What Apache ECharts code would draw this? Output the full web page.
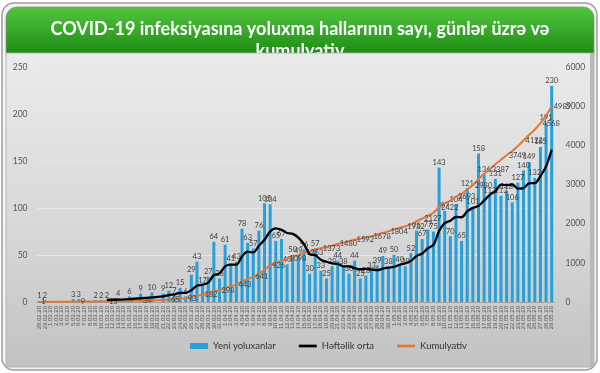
<!DOCTYPE html>
<html>
<head>
<meta charset="utf-8">
<script src="https://cdn.jsdelivr.net/npm/echarts@6/dist/echarts.min.js"></script>
<style>
html,body{margin:0;padding:0;background:#ffffff;}
#chart{width:600px;height:373px;}
</style>
</head>
<body>
<div id="chart"></div>
<script>
// ---- DATA ----
const categories = [
"28.02.20","29.02.20","1.03.20","2.03.20","3.03.20","4.03.20","5.03.20","6.03.20","7.03.20","8.03.20",
"9.03.20","10.03.20","11.03.20","12.03.20","13.03.20","14.03.20","15.03.20","16.03.20","17.03.20","18.03.20",
"19.03.20","20.03.20","21.03.20","22.03.20","23.03.20","24.03.20","25.03.20","26.03.20","27.03.20","28.03.20",
"29.03.20","30.03.20","31.03.20","1.04.20","2.04.20","3.04.20","4.04.20","5.04.20","6.04.20","7.04.20",
"8.04.20","9.04.20","10.04.20","11.04.20","12.04.20","13.04.20","14.04.20","15.04.20","16.04.20","17.04.20",
"18.04.20","19.04.20","20.04.20","21.04.20","22.04.20","23.04.20","24.04.20","25.04.20","26.04.20","27.04.20",
"28.04.20","29.04.20","30.04.20","1.05.20","2.05.20","3.05.20","4.05.20","5.05.20","6.05.20","7.05.20",
"8.05.20","9.05.20","10.05.20","11.05.20","12.05.20","13.05.20","14.05.20","15.05.20","16.05.20","17.05.20",
"18.05.20","19.05.20","20.05.20","21.05.20","22.05.20","23.05.20","24.05.20","25.05.20","26.05.20","27.05.20",
"28.05.20","29.05.20"
];

const newCases = [
1,2,null,null,null,null,3,3,null,null,
2,2,2,null,4,null,6,null,9,null,
10,null,9,12,7,15,6,29,43,17,
27,64,25,61,41,43,78,63,57,76,
105,104,65,67,40,50,49,56,30,57,
33,25,38,44,38,30,44,25,28,33,
39,49,38,50,40,38,52,76,67,77,
75,143,97,70,104,65,121,101,158,136,
113,131,113,118,106,127,140,149,132,165,
191,230
];

const weeklyAvg = [
null,null,null,null,null,null,null,null,null,null,
null,null,2.14,null,2.57,null,3.14,null,4.0,null,
5.0,null,6.0,7.43,8.14,9.71,9.71,12.57,17.29,18.43,
20.57,28.71,30.14,38.0,39.71,39.71,48.43,53.57,52.57,59.86,
66.14,75.14,78.29,76.71,73.43,72.43,68.57,61.57,51.0,49.86,
45.0,42.86,41.14,40.43,37.86,37.86,36.0,34.86,35.29,34.57,
33.86,35.43,36.57,37.43,39.57,41.0,43.71,49.0,51.57,57.14,
60.71,75.43,83.86,86.43,90.43,90.14,96.43,100.14,102.29,107.86,
114.0,117.86,124.71,124.29,125.0,120.57,121.14,126.29,126.43,133.86,
144.29,162.0
];

const cumulative = [
1,3,null,null,null,null,6,9,null,null,
11,13,15,null,19,null,25,null,34,null,
44,null,53,65,72,87,93,122,165,182,
209,273,298,359,400,443,521,584,641,717,
822,926,991,1058,1098,1148,1197,1253,1283,1340,
1373,1398,1436,1480,1518,1548,1592,1617,1645,1678,
1717,1766,1804,1854,1894,1932,1984,2060,2127,2204,
2279,2422,2519,2589,2693,2758,2879,2980,3138,3274,
3387,3518,3631,3749,3855,3982,4122,4271,4403,4568,
4759,4989
];

// which cumulative points carry a value label
const cumLabelIdx = [0,7,12,18,23,26,29,32,35,38,41,44,47,50,53,56,59,62,65,68,71,74,77,80,83,86,89,91];

const leftTicks = {min:0, max:250, interval:50};
const rightTicks = {min:0, max:6000, interval:1000};

const titleText = "COVID-19 infeksiyasına yoluxma hallarının sayı, günlər üzrə və\nkumulyativ";
const seriesNames = ["Yeni yoluxanlar","Həftəlik orta","Kumulyativ"];

// ---- CHART ----
const chart = echarts.init(document.getElementById('chart'), null, {renderer:'canvas'});
const labelSet = new Set(cumLabelIdx);
const lblFont = 'Lato, "Liberation Sans", sans-serif';

const option = {
  animation: false,
  backgroundColor: '#ffffff',
  title: {
    text: titleText,
    left: 'center',
    top: 13,
    zlevel: 0, z: 50,
    textStyle: {color:'#ffffff', fontSize:18, fontWeight:'bold', fontFamily:lblFont, lineHeight:22, align:'center'}
  },
  graphic: [
    {type:'rect', zlevel:0, z:1, shape:{x:2, y:3, width:595, height:367, r:12},
     style:{fill:'#f4f4f4', stroke:'#9d9d9d', lineWidth:1.5}},
    {type:'rect', zlevel:0, z:2, shape:{x:6, y:7, width:588, height:48, r:[11,11,0,0]},
     style:{fill:new echarts.graphic.LinearGradient(0,0,0,1,[{offset:0,color:'#52c63e'},{offset:1,color:'#1c8a15'}]), stroke:'#8a8a8a', lineWidth:0.8}},
    {type:'rect', zlevel:0, z:100, shape:{x:6, y:53, width:588, height:314},
     style:{fill:new echarts.graphic.LinearGradient(0,0,0,1,[{offset:0,color:'#ebebeb'},{offset:0.6,color:'#d6d6d6'},{offset:1,color:'#c2c2c2'}]), stroke:'#a9a9a9', lineWidth:0.8}},
    {type:'rect', zlevel:0, z:101, shape:{x:590, y:53, width:4, height:314},
     style:{fill:'#b8b8b8'}}
  ],
  legend: {
    zlevel: 1,
    left: 190, top: 341,
    itemWidth: 18, itemHeight: 6, itemGap: 23,
    padding: 0,
    textStyle: {fontSize: 9.5, color:'#333333', fontFamily:lblFont},
    data: [
      {name: seriesNames[0], icon:'path://M0,0 L18,0 L18,6 L0,6 Z'},
      {name: seriesNames[1], icon:'path://M0,0 L20,0 L20,3 L0,3 Z'},
      {name: seriesNames[2], icon:'path://M0,0 L20,0 L20,3 L0,3 Z'}
    ]
  },
  grid: {left: 36.5, right: 45.5, top: 67, bottom: 71, zlevel: 1},
  xAxis: {
    type: 'category',
    data: categories,
    zlevel: 1,
    boundaryGap: true,
    axisLine: {show:true, lineStyle:{color:'#a0a0a0', width:1}},
    axisTick: {show:false},
    axisLabel: {interval:0, rotate:90, fontSize:6, color:'#555555', margin:4, fontFamily:'"Liberation Sans", sans-serif'}
  },
  yAxis: [
    {type:'value', min:leftTicks.min, max:leftTicks.max, interval:leftTicks.interval, zlevel:1,
     axisLine:{show:false}, axisTick:{show:false},
     axisLabel:{fontSize:8.5, color:'#555555', margin:9, fontFamily:lblFont},
     splitLine:{show:true, lineStyle:{color:'#e6e6e6', width:1}}},
    {type:'value', min:rightTicks.min, max:rightTicks.max, interval:rightTicks.interval, zlevel:1,
     position:'right',
     axisLine:{show:false}, axisTick:{show:false},
     axisLabel:{fontSize:8.5, color:'#555555', margin:11, fontFamily:lblFont, formatter: v => String(v)},
     splitLine:{show:false}}
  ],
  series: [
    {
      name: seriesNames[0], type:'bar', data:newCases, yAxisIndex:0, zlevel:1, z:2,
      barWidth: 3,
      itemStyle: {color:'#25a0da'},
      label: {show:true, position:'top', distance:1, fontSize:7.5, color:'#404040', fontFamily:lblFont}
    },
    {
      name: seriesNames[1], type:'line', data:weeklyAvg, yAxisIndex:0, zlevel:1, z:4,
      connectNulls:true, smooth:0.3, symbol:'none', showSymbol:false,
      lineStyle:{color:'#000000', width:2.3},
      itemStyle:{color:'#000000'}
    },
    {
      name: seriesNames[2], type:'line', data:cumulative, yAxisIndex:1, zlevel:1, z:3,
      connectNulls:true, smooth:0.3, symbol:'circle', symbolSize:0, showSymbol:true,
      lineStyle:{color:'#e0773a', width:2},
      itemStyle:{color:'#e0773a'},
      label:{show:true, position:'right', distance:2, fontSize:7.5, color:'#404040', fontFamily:lblFont,
        formatter: p => labelSet.has(p.dataIndex) ? String(p.value) : ''}
    }
  ]
};
chart.setOption(option);
</script>
</body>
</html>
